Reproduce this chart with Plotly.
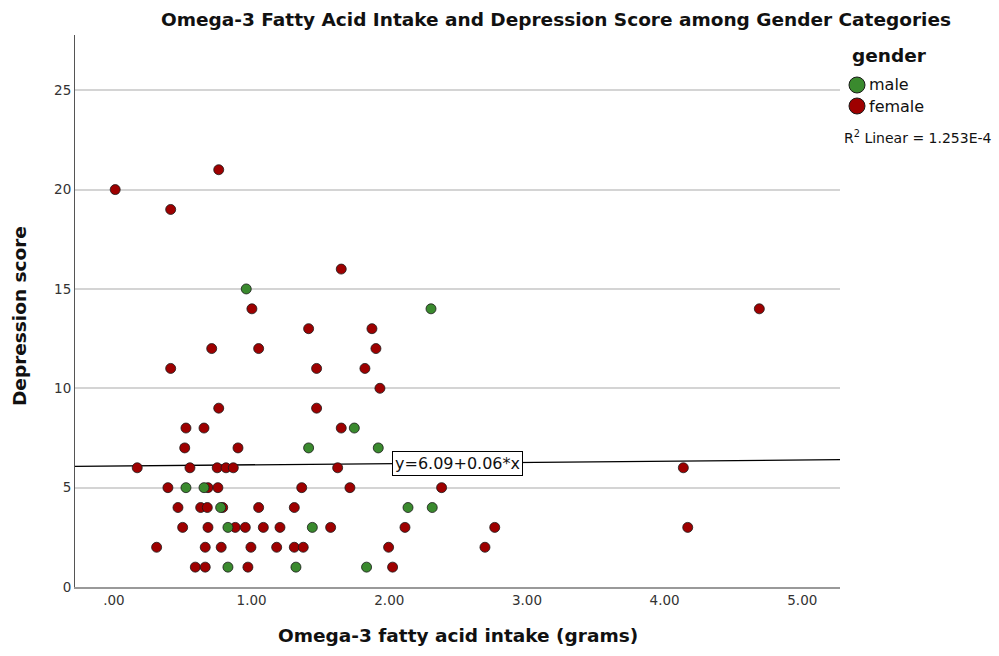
import plotly.graph_objects as go

# ---- data ----
female_x = [0.009, 0.761, 0.412, 1.651, 1.002, 1.414, 1.874, 0.710, 1.051, 1.903,
            0.412, 1.472, 1.823, 1.932, 0.761, 1.472,
            0.523, 0.654, 1.651,
            0.514, 0.901,
            0.169, 0.552, 0.750, 0.814, 0.867, 1.625, 4.136,
            0.392, 0.683, 0.755, 1.364, 1.714, 2.380,
            0.465, 0.630, 0.678, 0.790, 1.051, 1.310,
            0.499, 0.683, 0.881, 0.954, 1.085, 1.206, 1.574, 2.114, 2.766, 4.168,
            0.310, 0.663, 0.779, 0.995, 1.182, 1.310, 1.375, 1.995, 2.695,
            0.591, 0.663, 0.973, 2.024,
            4.688]
female_y = [20, 21, 19, 16, 14, 13, 13, 12, 12, 12,
            11, 11, 11, 10, 9, 9,
            8, 8, 8,
            7, 7,
            6, 6, 6, 6, 6, 6, 6,
            5, 5, 5, 5, 5, 5,
            4, 4, 4, 4, 4, 4,
            3, 3, 3, 3, 3, 3, 3, 3, 3, 3,
            2, 2, 2, 2, 2, 2, 2, 2, 2,
            1, 1, 1, 1,
            14]
male_x = [0.961, 2.303, 1.746, 1.414, 1.920, 0.523, 0.654, 0.775, 2.136, 2.312,
          0.828, 1.441, 0.828, 1.322, 1.835]
male_y = [15, 14, 8, 7, 7, 5, 5, 4, 4, 4,
          3, 3, 1, 1, 1]

legend_title = "gender"
legend_labels = ["male", "female"]
fit_intercept = 6.09
fit_slope = 0.06
r2_text = "R<sup>2</sup> Linear = 1.253E-4"

x_range = [-0.283, 5.274]
y_range = [0, 27.78]
x_tickvals = [0, 1, 2, 3, 4, 5]
x_ticktext = [".00", "1.00", "2.00", "3.00", "4.00", "5.00"]
y_tickvals = [0, 5, 10, 15, 20, 25]

MALE_COLOR = "#3a8a2e"
FEMALE_COLOR = "#9e0000"
FONT = "DejaVu Sans"

# plot-area geometry in pixels (for placing layout elements)
W, H = 999, 656
L, R, T, B = 75, 159, 35, 69
PW, PH = W - L - R, H - T - B


def px_x(px):
    return (px - L) / PW


def px_y(py):
    return (H - B - py) / PH


fig = go.Figure()

# regression line
line_x = list(x_range)
line_y = [fit_intercept + fit_slope * v for v in line_x]
fig.add_trace(go.Scatter(x=line_x, y=line_y, mode="lines",
                         line=dict(color="black", width=1.3),
                         showlegend=False, hoverinfo="skip"))

marker_line = dict(color="#1a1a1a", width=0.8)
fig.add_trace(go.Scatter(x=female_x, y=female_y, mode="markers", name="female",
                         marker=dict(size=10, color=FEMALE_COLOR, line=marker_line),
                         showlegend=False))
fig.add_trace(go.Scatter(x=male_x, y=male_y, mode="markers", name="male",
                         marker=dict(size=10, color=MALE_COLOR, line=marker_line),
                         showlegend=False))

fig.update_layout(
    width=W, height=H,
    margin=dict(l=L, r=R, t=T, b=B),
    paper_bgcolor="white", plot_bgcolor="white",
    font=dict(family=FONT, color="#222"),
    showlegend=False,
    title=dict(text="<b>Omega-3 Fatty Acid Intake and Depression Score among Gender Categories</b>",
               x=556 / W, xref="container", xanchor="center",
               y=1 - 20 / H, yref="container", yanchor="middle",
               font=dict(family=FONT, size=18.5, color="#111")),
    xaxis=dict(range=x_range, tickvals=x_tickvals, ticktext=x_ticktext,
               showgrid=False, zeroline=False, showline=True,
               linecolor="#999", linewidth=2, ticks="",
               tickfont=dict(family=FONT, size=13.5, color="#333")),
    yaxis=dict(range=y_range, tickvals=y_tickvals,
               showgrid=True, gridcolor="#d4d4d4", gridwidth=1.5,
               zeroline=False, showline=True, linecolor="#555", linewidth=1,
               ticks="", tickfont=dict(family=FONT, size=13.5, color="#333")),
)

# legend (drawn as layout items to match the reference spacing)
fig.add_annotation(x=px_x(850), y=px_y(55), xref="paper", yref="paper",
                   xanchor="left", yanchor="middle", showarrow=False,
                   text=f"<b>{legend_title}</b>",
                   font=dict(family=FONT, size=18.5, color="#111"))
for label, color, cy in zip(legend_labels, [MALE_COLOR, FEMALE_COLOR], [85, 106]):
    fig.add_shape(type="circle", xref="paper", yref="paper",
                  xsizemode="pixel", ysizemode="pixel",
                  xanchor=px_x(857), yanchor=px_y(cy),
                  x0=-8, x1=8, y0=-8, y1=8,
                  fillcolor=color, line=dict(color="#1a1a1a", width=1))
    fig.add_annotation(x=px_x(867), y=px_y(cy), xref="paper", yref="paper",
                       xanchor="left", yanchor="middle", showarrow=False,
                       text=label, font=dict(family=FONT, size=16, color="#111"))

# equation label
fig.add_annotation(x=2.495, y=6.23, xref="x", yref="y",
                   text=f"y={fit_intercept:.2f}+{fit_slope:.2f}*x",
                   showarrow=False, font=dict(family=FONT, size=16, color="#111"),
                   bgcolor="white", bordercolor="black", borderwidth=1, borderpad=2)

# R^2 label
fig.add_annotation(x=px_x(842), y=px_y(137), xref="paper", yref="paper",
                   xanchor="left", yanchor="middle", text=r2_text, showarrow=False,
                   font=dict(family=FONT, size=14, color="#111"))

# axis titles
fig.add_annotation(x=0.5, y=px_y(635), xref="paper", yref="paper",
                   xanchor="center", yanchor="middle",
                   text="<b>Omega-3 fatty acid intake (grams)</b>", showarrow=False,
                   font=dict(family=FONT, size=18.5, color="#111"))
fig.add_annotation(x=px_x(20), y=px_y(316), xref="paper", yref="paper",
                   xanchor="center", yanchor="middle", textangle=-90,
                   text="<b>Depression score</b>", showarrow=False,
                   font=dict(family=FONT, size=18.5, color="#111"))

fig.write_html("out.html")
